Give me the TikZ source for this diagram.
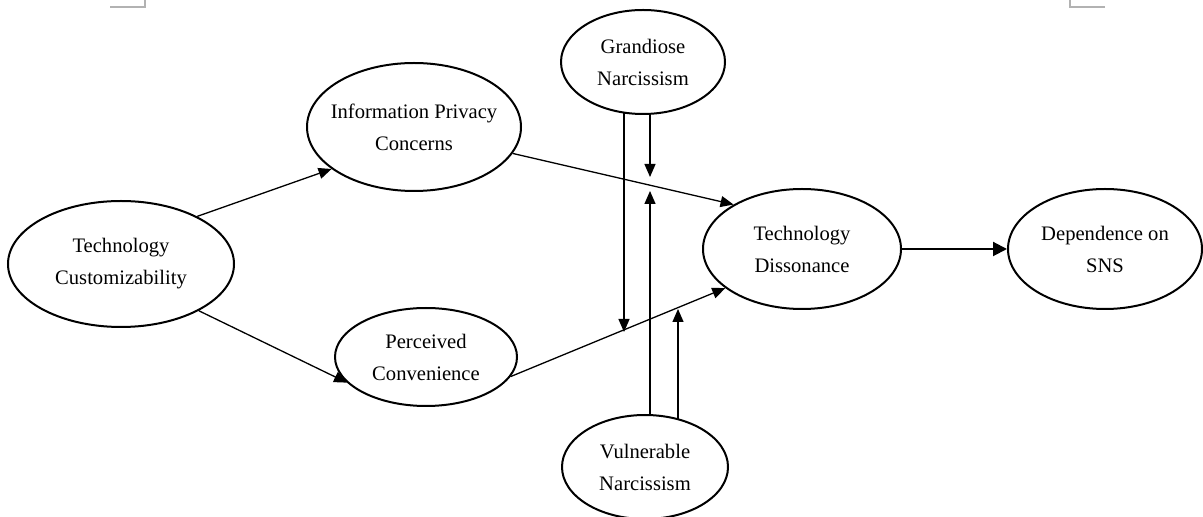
\documentclass[tikz,border=0pt]{standalone}
\usepackage{fontspec}
\setmainfont{Liberation Serif}
\usetikzlibrary{shapes.geometric,arrows.meta,backgrounds}
\begin{document}
\begin{tikzpicture}[x=0.5pt,y=-0.5pt,
  construct/.style={ellipse,draw=black,line width=1pt,fill=white,inner sep=0pt},
  lbl/.style={align=center,inner sep=0pt,font=\fontsize{10.3pt}{16pt}\selectfont},
  link/.style={line width=0.65pt,-{Triangle[length=6.5pt,width=5.5pt]}},
  biglink/.style={line width=1pt,-{Triangle[length=7pt,width=7pt]}},
  cropmark/.style={draw=black!30,line width=0.8pt}
]
\useasboundingbox (0,0) rectangle (1203,517);
\node[construct,minimum width=113pt,minimum height=63pt,
  label={[lbl]center:{Technology\\Customizability}}] (tc) at (121,264) {};
\node[construct,minimum width=107pt,minimum height=64pt,
  label={[lbl]center:{Information Privacy\\Concerns}}] (ipc) at (414,127) {};
\node[construct,minimum width=91pt,minimum height=49pt,
  label={[lbl]center:{Perceived\\Convenience}}] (pc) at (426,357) {};
\node[construct,minimum width=82pt,minimum height=52pt,
  label={[lbl]center:{Grandiose\\Narcissism}}] (gn) at (643,62) {};
\node[construct,minimum width=83pt,minimum height=52pt,
  label={[lbl]center:{Vulnerable\\Narcissism}}] (vn) at (645,467) {};
\node[construct,minimum width=99pt,minimum height=60pt,
  label={[lbl]center:{Technology\\Dissonance}}] (td) at (802,249) {};
\node[construct,minimum width=97pt,minimum height=60pt,
  label={[lbl]center:{Dependence on\\SNS}}] (dsns) at (1105,249) {};

\coordinate (g1) at (624,332);
\coordinate (g2) at (650,177);
\coordinate (v1) at (650,191);
\coordinate (v2) at (678,309);
\coordinate (mla) at (110,7);
\coordinate (mlc) at (145,7);
\coordinate (mlt) at (145,0);
\coordinate (mrc) at (1070,7);
\coordinate (mrb) at (1105,7);
\coordinate (mrt) at (1070,0);

\begin{scope}[on background layer]
\draw[link] (tc.32) -- (ipc.207);
\draw[link] (tc.-31) -- (pc.198);
\draw[link] (ipc.-15) -- (td.147);
\draw[link] (pc.-13) -- (td.207);
\draw[biglink] (td.east) -- (dsns.west);
\draw[link] (gn.center -| g1) -- (g1);
\draw[link] (gn.center -| g2) -- (g2);
\draw[link] (vn.center -| v1) -- (v1);
\draw[link] (vn.center -| v2) -- (v2);
\end{scope}
\draw[cropmark] (mla) -- (mlc) -- (mlt);
\draw[cropmark] (mrb) -- (mrc) -- (mrt);
\end{tikzpicture}
\end{document}
